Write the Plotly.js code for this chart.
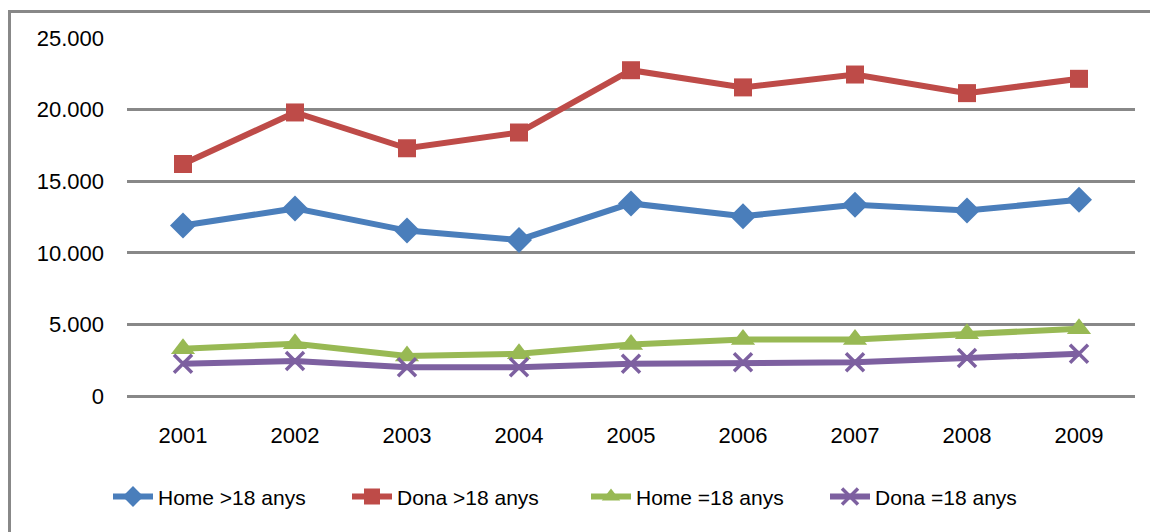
<!DOCTYPE html>
<html>
<head>
<meta charset="utf-8">
<script src="https://cdn.plot.ly/plotly-3.0.1.min.js"></script>
<style>
  html, body { margin: 0; padding: 0; background: #ffffff; }
  #chart { width: 1150px; height: 532px; }
</style>
</head>
<body>
<div id="chart"></div>
<script>
const years = ['2001', '2002', '2003', '2004', '2005', '2006', '2007', '2008', '2009'];
const homeMajor = [11900, 13100, 11550, 10900, 13450, 12550, 13350, 12950, 13700];
const donaMajor = [16200, 19800, 17300, 18400, 22750, 21550, 22450, 21150, 22150];
const homeEq18 = [3300, 3650, 2800, 2950, 3600, 3950, 3950, 4350, 4700];
const donaEq18 = [2250, 2450, 2000, 2000, 2250, 2350, 2350, 2650, 2950];
const seriesNames = ['Home >18 anys', 'Dona >18 anys', 'Home =18 anys', 'Dona =18 anys'];
const yTicks = [0, 5000, 10000, 15000, 20000, 25000];

const FONT = 'Liberation Sans, Arial, sans-serif';

const traces = [
  {
    x: years, y: homeMajor, name: seriesNames[0], type: 'scatter', mode: 'lines+markers',
    line: { color: '#4A7EBB', width: 6 },
    marker: { symbol: 'diamond', size: 20, color: '#4A7EBB' }
  },
  {
    x: years, y: donaMajor, name: seriesNames[1], type: 'scatter', mode: 'lines+markers',
    line: { color: '#BE4B48', width: 6 },
    marker: { symbol: 'square', size: 18, color: '#BE4B48' }
  },
  {
    x: years, y: homeEq18, name: seriesNames[2], type: 'scatter', mode: 'lines+markers',
    line: { color: '#98B954', width: 6 },
    marker: { symbol: 'triangle-up', size: 21, color: '#98B954' }
  },
  {
    x: years, y: donaEq18, name: seriesNames[3], type: 'scatter', mode: 'lines+markers',
    line: { color: '#7D60A0', width: 6 },
    marker: { symbol: 'x-thin', size: 18, color: '#7D60A0', line: { color: '#7D60A0', width: 3.5 } }
  }
];

const plotL = 127, plotR = 1135, plotT = 37.5, plotB = 396;
const W = 1150, H = 532;
const pw = plotR - plotL, ph = plotB - plotT;
const px = v => (v - plotL) / pw;
const py = v => (plotB - v) / ph;

const layout = {
  width: W, height: H,
  separators: ',.',
  margin: { l: plotL, r: W - plotR, t: plotT, b: H - plotB, pad: 0 },
  paper_bgcolor: '#ffffff',
  plot_bgcolor: '#ffffff',
  font: { family: FONT, size: 21, color: '#000000' },
  showlegend: true,
  legend: {
    orientation: 'h',
    x: px(108), xanchor: 'left',
    y: py(497), yanchor: 'middle',
    font: { family: FONT, size: 21, color: '#000000' },
    itemwidth: 40,
    entrywidth: 184,
    entrywidthmode: 'pixels',
    tracegroupgap: 0,
    bgcolor: 'rgba(0,0,0,0)'
  },
  xaxis: {
    type: 'category',
    categoryarray: years,
    range: [-0.5, years.length - 0.5],
    showgrid: false,
    zeroline: false,
    showline: false,
    ticks: '',
    tickfont: { family: FONT, size: 22, color: '#000000' },
    ticklabelstandoff: 24,
    fixedrange: true
  },
  yaxis: {
    range: [0, 25000],
    tickvals: yTicks,
    tickformat: ',d',
    showgrid: true,
    gridcolor: '#888888',
    gridwidth: 3,
    zeroline: true,
    zerolinecolor: '#888888',
    zerolinewidth: 3,
    showline: false,
    ticks: '',
    tickfont: { family: FONT, size: 22, color: '#000000' },
    ticklabelstandoff: 22,
    fixedrange: true
  },
  shapes: [
    { type: 'line', xref: 'paper', yref: 'paper', x0: px(9.5), x1: px(9.5), y0: py(9.5), y1: py(540),
      line: { color: '#888888', width: 3 } },
    { type: 'line', xref: 'paper', yref: 'paper', x0: px(8), x1: px(1160), y0: py(11), y1: py(11),
      line: { color: '#888888', width: 3 } }
  ]
};

Plotly.newPlot('chart', traces, layout, { displayModeBar: false, staticPlot: true });
</script>
</body>
</html>
